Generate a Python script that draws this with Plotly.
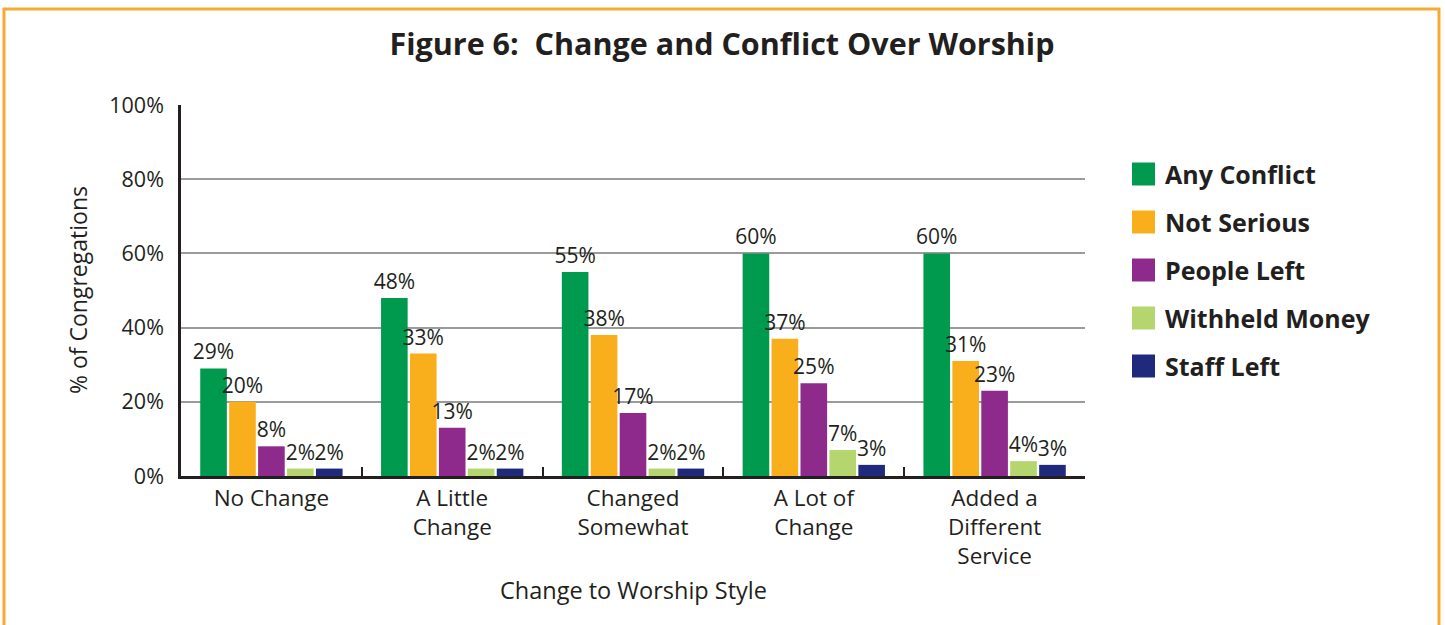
import plotly.graph_objects as go

categories = ["No Change", "A Little<br>Change", "Changed<br>Somewhat", "A Lot of<br>Change", "Added a<br>Different<br>Service"]
series_names = ["Any Conflict", "Not Serious", "People Left", "Withheld Money", "Staff Left"]
any_conflict = [29, 48, 55, 60, 60]
not_serious = [20, 33, 38, 37, 31]
people_left = [8, 13, 17, 25, 23]
withheld_money = [2, 2, 2, 7, 4]
staff_left = [2, 2, 2, 3, 3]
series_values = [any_conflict, not_serious, people_left, withheld_money, staff_left]
colors = ["#009A4E", "#F9AE1B", "#8E2A8C", "#B5D56E", "#1F2A7C"]
y_ticks = [0, 20, 40, 60, 80, 100]
y_tick_labels = ["0%", "20%", "40%", "60%", "80%", "100%"]

W, H = 1445, 625
L, R, T, B = 181, 360, 105, 149
PW, PH = W - L - R, H - T - B


def px(x):
    return (x - L) / PW


def py(y):
    return (H - B - y) / PH


FONT = "'Open Sans', Lato, sans-serif"
INK = "#231F20"

fig = go.Figure()
for name, vals, col in zip(series_names, series_values, colors):
    fig.add_trace(go.Bar(
        x=categories, y=vals, name=name, marker=dict(color=col, line=dict(width=0)),
        text=[f"{v}%" for v in vals], textposition="outside", cliponaxis=False,
        constraintext="none", textfont=dict(size=21, color=INK, family=FONT),
        showlegend=False,
    ))

shapes = []
annotations = []
# outer orange frame
shapes.append(dict(type="rect", xref="paper", yref="paper",
                   x0=px(4), x1=px(1439), y0=py(660), y1=py(9),
                   line=dict(color="#F7A934", width=3), fillcolor="rgba(0,0,0,0)", layer="below"))
# custom legend
legend_y = [174, 222, 270, 318, 366]
for name, col, yc in zip(series_names, colors, legend_y):
    shapes.append(dict(type="rect", xref="paper", yref="paper",
                       x0=px(1132), x1=px(1155), y0=py(yc + 11.5), y1=py(yc - 11.5),
                       line=dict(width=0), fillcolor=col))
    annotations.append(dict(text=f"<b>{name}</b>", xref="paper", yref="paper",
                            x=px(1163), y=py(yc), xanchor="left", yanchor="middle",
                            showarrow=False, font=dict(size=25, color=INK, family=FONT)))
annotations.append(dict(text="% of Congregations", xref="paper", yref="paper",
                        x=px(78), y=py(290), textangle=-90, showarrow=False,
                        xanchor="center", yanchor="middle",
                        font=dict(size=23, color=INK, family=FONT)))
annotations.append(dict(text="Change to Worship Style", xref="paper", yref="paper",
                        x=px(633), y=py(590), showarrow=False,
                        xanchor="center", yanchor="middle",
                        font=dict(size=23.5, color=INK, family=FONT)))

fig.update_layout(
    width=W, height=H,
    margin=dict(l=L, r=R, t=T, b=B, autoexpand=False),
    paper_bgcolor="white", plot_bgcolor="white",
    barmode="group", bargap=0.2, bargroupgap=0.08,
    title=dict(text="<b>Figure 6:  Change and Conflict Over Worship</b>",
               x=722 / W, xref="container", xanchor="center", y=1 - 44 / H, yanchor="middle",
               font=dict(size=30.5, color=INK, family=FONT)),
    font=dict(family=FONT, color=INK),
    shapes=shapes, annotations=annotations,
    xaxis=dict(showline=True, linecolor=INK, linewidth=2.5,
               ticks="inside", tickson="boundaries", ticklen=9, tickwidth=2, tickcolor=INK,
               tickfont=dict(size=22.5, color=INK, family=FONT), showgrid=False),
    yaxis=dict(range=[0, 100], tickvals=y_ticks, ticktext=y_tick_labels,
               showline=True, linecolor=INK, linewidth=2.5,
               showgrid=True, gridcolor="#9B9B9B", gridwidth=2, zeroline=False,
               ticks="", ticklabelstandoff=10,
               tickfont=dict(size=21.5, color=INK, family=FONT)),
)

fig.write_html("out.html", config={"displayModeBar": False},
               post_script="document.body.style.margin='0';")
